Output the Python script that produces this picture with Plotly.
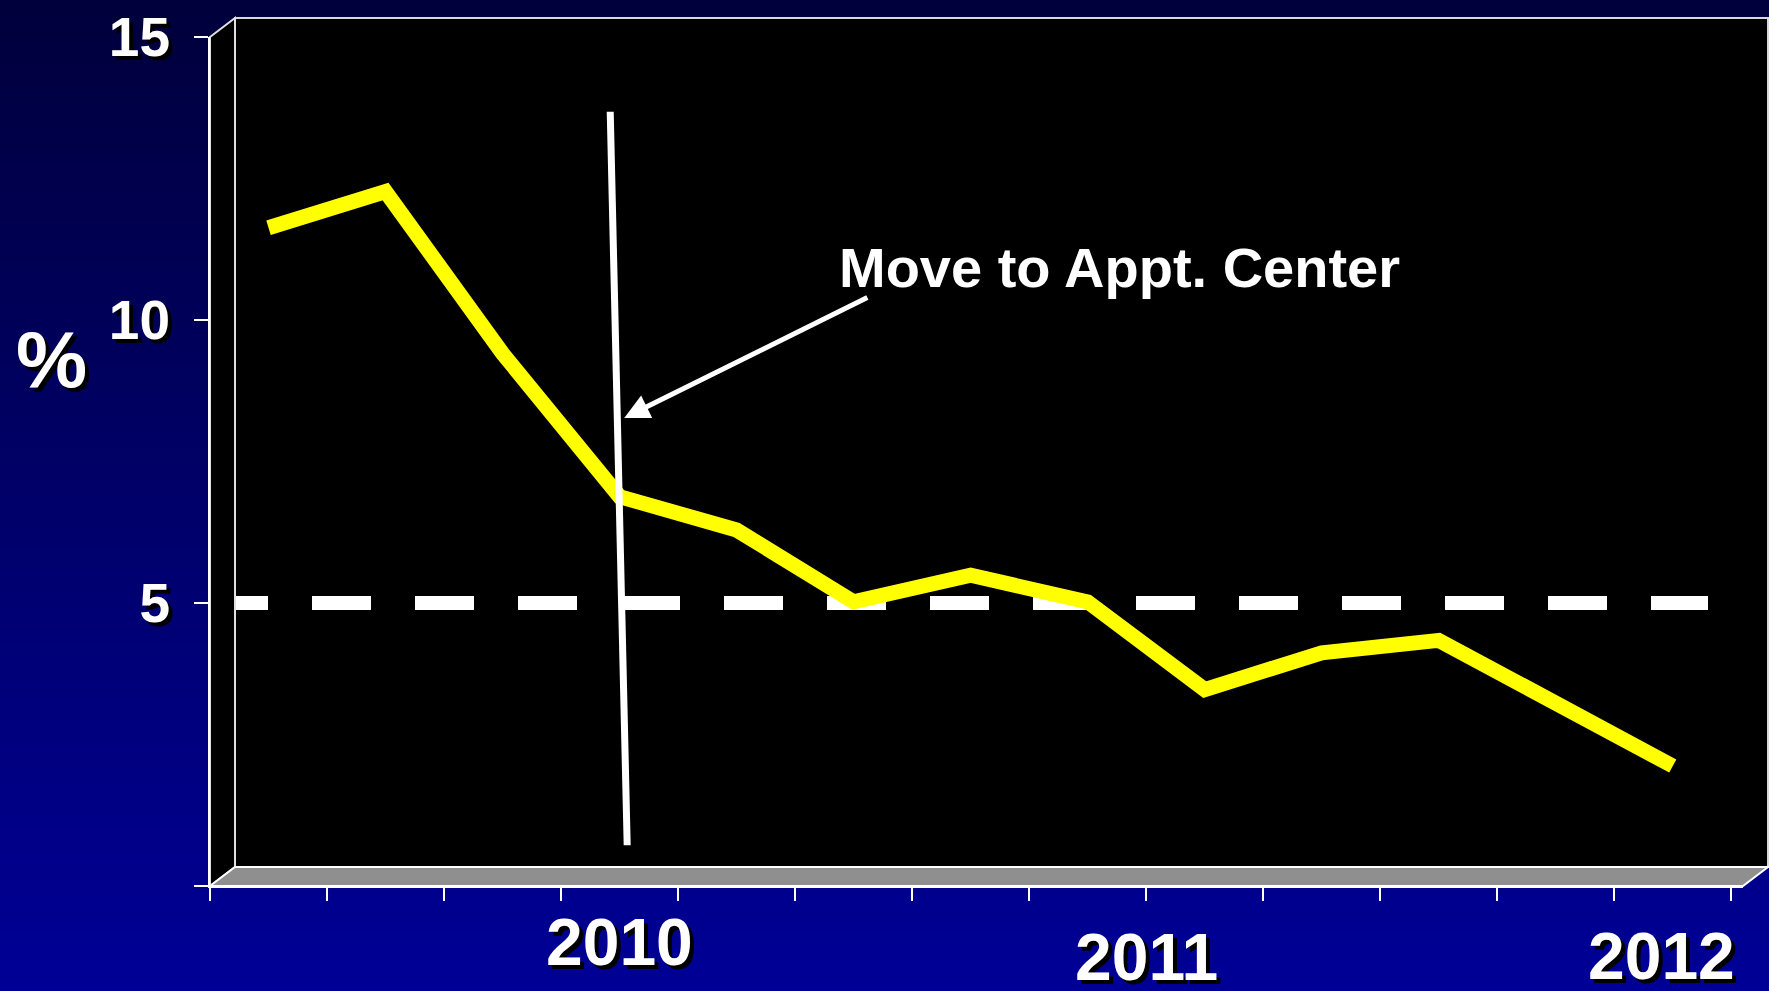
import base64
import struct
import zlib
import plotly.graph_objects as go

# ---------------- data ----------------
periods = ["P01", "P02", "P03", "P04", "P05", "P06", "P07",
           "P08", "P09", "P10", "P11", "P12", "P13"]
rate_pct = [11.63, 12.27, 9.41, 6.88, 6.29, 5.02, 5.49,
            5.02, 3.47, 4.12, 4.34, 3.25, 2.12]
target_pct = 5
y_tick_vals = [0, 5, 10, 15]
y_tick_text = ["", "5", "10", "15"]
year_labels = ["2010", "2011", "2012"]
year_label_x = [3.0, 7.5, 11.9]          # category-index position of each year label
move_line_x = [2.92, 3.065]               # "move" marker line (category index)
move_line_y = [13.68, 0.72]
arrow_tip = (3.04, 8.27)
arrow_tail = (5.13, 10.41)
note_text = "Move to Appt. Center"
note_pos = (4.86, 10.92)

# ---------------- geometry ----------------
W, H = 1769, 991
L, R, T, B = 210, 1743, 37, 886          # front plane of the chart (px)
DX, DY = 25, 19                           # 3-D depth offset (px)
PW, PH = R - L, B - T


def px(x):
    return (x - L) / PW


def py(y):
    return (B - y) / PH


def gradient_png(top, bottom, n=256, w=2):
    raw = b""
    for i in range(n):
        t = i / (n - 1)
        c = bytes(round(a + (b - a) * t) for a, b in zip(top, bottom))
        raw += b"\x00" + c * w

    def chunk(tag, data):
        out = struct.pack(">I", len(data)) + tag + data
        return out + struct.pack(">I", zlib.crc32(tag + data) & 0xFFFFFFFF)

    png = (b"\x89PNG\r\n\x1a\n"
           + chunk(b"IHDR", struct.pack(">IIBBBBB", w, n, 8, 2, 0, 0, 0))
           + chunk(b"IDAT", zlib.compress(raw))
           + chunk(b"IEND", b""))
    return "data:image/png;base64," + base64.b64encode(png).decode()


FONT = "Liberation Sans, Arial, Helvetica, sans-serif"
SHADOW = "4px 4px 0px #000000"

fig = go.Figure()
fig.add_trace(go.Scatter(
    x=periods, y=rate_pct, mode="lines",
    line=dict(color="#FFFF00", width=15),
    hoverinfo="skip", showlegend=False,
))

shapes = [
    # back wall
    dict(type="rect", xref="paper", yref="paper",
         x0=px(L + DX), x1=px(R + DX), y0=py(B - DY), y1=py(T - DY),
         fillcolor="#000000", line=dict(color="#d8d8d8", width=2), layer="below"),
    # target reference line
    dict(type="line", xref="paper", yref="y",
         x0=px(209), x1=px(1708), y0=target_pct, y1=target_pct,
         line=dict(color="#FFFFFF", width=14, dash="59px,44px"), layer="below"),
    # side wall
    dict(type="path", xref="paper", yref="paper",
         path=f"M{px(L)},{py(T)} L{px(L + DX)},{py(T - DY)} L{px(L + DX)},{py(B - DY)} L{px(L)},{py(B)} Z",
         fillcolor="#000000", line=dict(color="#e0e0e0", width=2), layer="below"),
    # floor
    dict(type="path", xref="paper", yref="paper",
         path=f"M{px(L)},{py(B)} L{px(L + DX)},{py(B - DY)} L{px(R + DX)},{py(B - DY)} L{px(R)},{py(B)} Z",
         fillcolor="#8f8f8f", line=dict(color="#FFFFFF", width=2), layer="below"),
    # move marker line
    dict(type="line", xref="x", yref="y",
         x0=move_line_x[0], x1=move_line_x[1], y0=move_line_y[0], y1=move_line_y[1],
         line=dict(color="#FFFFFF", width=7), layer="above"),
]

annotations = [
    dict(x=arrow_tip[0], y=arrow_tip[1], xref="x", yref="y",
         ax=arrow_tail[0], ay=arrow_tail[1], axref="x", ayref="y",
         text="", showarrow=True, arrowhead=2, arrowsize=1, arrowwidth=5,
         arrowcolor="#FFFFFF"),
    dict(x=note_pos[0], y=note_pos[1], xref="x", yref="y",
         text=note_text, showarrow=False, xanchor="left", yanchor="middle",
         font=dict(family=FONT, size=56, color="#FFFFFF", weight="bold")),
    dict(x=px(51), y=py(359), xref="paper", yref="paper", text="%",
         showarrow=False, xanchor="center", yanchor="middle",
         font=dict(family=FONT, size=80, color="#FFFFFF", weight="bold", shadow=SHADOW)),
]
year_y = [942, 957, 956]
for lab, xv, yv in zip(year_labels, year_label_x, year_y):
    annotations.append(dict(
        x=xv, y=py(yv), xref="x", yref="paper", text=lab, showarrow=False,
        xanchor="center", yanchor="middle",
        font=dict(family=FONT, size=66, color="#FFFFFF", weight="bold", shadow=SHADOW)))

fig.update_layout(
    width=W, height=H,
    autosize=False,
    margin=dict(l=L, r=W - R, t=T, b=H - B, pad=0, autoexpand=False),
    paper_bgcolor="#000060",
    plot_bgcolor="rgba(0,0,0,0)",
    showlegend=False,
    font=dict(family=FONT, color="#FFFFFF"),
    images=[dict(source=gradient_png((0, 0, 60), (0, 0, 150)),
                 xref="paper", yref="paper", x=px(0), y=py(0),
                 sizex=W / PW, sizey=H / PH, sizing="stretch",
                 xanchor="left", yanchor="top", layer="below")],
    shapes=shapes,
    annotations=annotations,
    xaxis=dict(
        type="category", categoryorder="array", categoryarray=periods,
        range=[-0.5, len(periods) - 0.5 + 0.1],
        tickson="boundaries", ticks="outside", ticklen=13, tickwidth=2,
        tickcolor="#FFFFFF", showticklabels=False,
        showline=True, linecolor="#FFFFFF", linewidth=2,
        showgrid=False, zeroline=False, fixedrange=True, automargin=False,
    ),
    yaxis=dict(
        range=[0, 15], tickmode="array", tickvals=y_tick_vals, ticktext=y_tick_text,
        ticks="outside", ticklen=14, tickwidth=2, tickcolor="#FFFFFF",
        ticklabelstandoff=13,
        tickfont=dict(family=FONT, size=55, color="#FFFFFF", weight="bold", shadow=SHADOW),
        showline=True, linecolor="#FFFFFF", linewidth=2,
        showgrid=False, zeroline=False, fixedrange=True, automargin=False,
    ),
)

fig.write_html(
    "out.html",
    config={"displayModeBar": False},
    post_script="document.body.style.margin='0';document.body.style.padding='0';"
                "document.body.style.overflow='hidden';"
                "document.documentElement.style.overflow='hidden';",
)
